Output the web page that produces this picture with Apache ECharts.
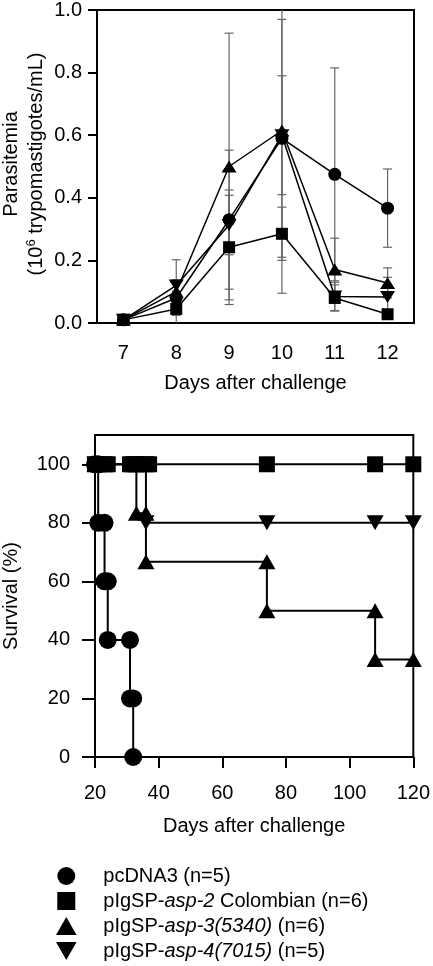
<!DOCTYPE html>
<html><head><meta charset="utf-8">
<script src="https://cdn.jsdelivr.net/npm/echarts@6/dist/echarts.min.js"></script>
<style>html,body{margin:0;padding:0;background:#fff}#c{width:433px;height:966px}</style>
</head><body><div id="c"></div>
<script>
// ---------- DATA ----------
const days = ['7', '8', '9', '10', '11', '12'];
const topTicks = [0, 0.2, 0.4, 0.6, 0.8, 1.0];
const names = ['pcDNA3 (n=5)', 'pIgSP-asp-2 Colombian (n=6)', 'pIgSP-asp-3(5340) (n=6)', 'pIgSP-asp-4(7015) (n=5)'];

// Parasitemia (10^6 trypomastigotes/mL): mean and SD per day
const pcdna3Mean = [0.01, 0.08, 0.33, 0.59, 0.475, 0.367];
const pcdna3SD   = [0.008, 0.055, 0.222, 0.38, 0.34, 0.125];
const asp2Mean   = [0.01, 0.045, 0.242, 0.285, 0.08, 0.028];
const asp2SD     = [0.008, 0.02, 0.183, 0.085, 0.042, 0.012];
const asp3Mean   = [0.01, 0.10, 0.50, 0.615, 0.171, 0.128];
const asp3SD     = [0.008, 0.102, 0.426, 0.52, 0.1, 0.048];
const asp4Mean   = [0.01, 0.12, 0.313, 0.60, 0.085, 0.083];
const asp4SD     = [0.008, 0.018, 0.095, 0.19, 0.045, 0.063];

// Survival (%) step curves: [day, survival]
const survPcdna3 = [[20,100],[21,100],[21,80],[23,80],[23,60],[24,60],[24,40],[31,40],[31,20],[32,20],[32,0]];
const survAsp2   = [[20,100],[21,100],[23,100],[24,100],[31,100],[32,100],[33,100],[36,100],[37,100],[74,100],[108,100],[120,100]];
const survAsp3   = [[20,100],[33,100],[33,83.3],[36,83.3],[36,66.7],[74,66.7],[74,50],[108,50],[108,33.3],[120,33.3]];
const survAsp4   = [[20,100],[36,100],[36,80],[74,80],[108,80],[120,80]];
const survTicks  = [0, 20, 40, 60, 80, 100];

// ---------- STYLE ----------
const FONT = "'Liberation Sans', Arial, Helvetica, sans-serif";
const UP = 'path://M0,14 L8,0 L16,14 Z';
const DOWN = 'path://M0,0 L16,0 L8,14 Z';
const SQ = 'path://M0,0 L10,0 L10,10 L0,10 Z';
const symbols = ['circle', 'rect', UP, DOWN];
const legendIcons = ['circle', SQ, UP, DOWN];
const topSizes = [13, 12, [15, 12], [15, 12]];
const survSizes = [18, 16, [17, 15], [17, 15]];
const zOrder = [3, 4, 5, 2];
const survZ = [3, 6, 4, 5];

function errSeries(mean, sd, z) {
  return {
    type: 'custom', xAxisIndex: 0, yAxisIndex: 0, z: z, silent: true,
    data: mean.map((m, i) => [i, m - sd[i], m + sd[i]]),
    renderItem: function (params, api) {
      const cs = params.coordSys;
      const x = api.coord([api.value(0), 0])[0];
      const yLo = api.coord([api.value(0), api.value(1)])[1];
      const yHi = api.coord([api.value(0), api.value(2)])[1];
      const top = cs.y, bot = cs.y + cs.height;
      const st = { stroke: '#666', lineWidth: 1.2 };
      const hw = 4.5;
      const children = [{ type: 'line', shape: { x1: x, y1: Math.max(yHi, top), x2: x, y2: Math.min(yLo, bot) }, style: st }];
      if (yHi >= top) children.push({ type: 'line', shape: { x1: x - hw, y1: yHi, x2: x + hw, y2: yHi }, style: st });
      if (yLo <= bot) children.push({ type: 'line', shape: { x1: x - hw, y1: yLo, x2: x + hw, y2: yLo }, style: st });
      return { type: 'group', children: children };
    }
  };
}

const means = [pcdna3Mean, asp2Mean, asp3Mean, asp4Mean];
const sds = [pcdna3SD, asp2SD, asp3SD, asp4SD];
const survs = [survPcdna3, survAsp2, survAsp3, survAsp4];

const series = [];
means.forEach((m, k) => series.push(errSeries(m, sds[k], 1)));
means.forEach((m, k) => series.push({
  name: names[k], type: 'line', xAxisIndex: 0, yAxisIndex: 0, z: zOrder[k],
  data: m, symbol: symbols[k], symbolSize: topSizes[k], showAllSymbol: true,
  lineStyle: { color: '#000', width: 1.5 }, itemStyle: { color: '#000' },
  emphasis: { disabled: true }, animation: false
}));
survs.forEach((s, k) => series.push({
  name: names[k], type: 'line', xAxisIndex: 1, yAxisIndex: 1, z: survZ[k],
  data: s, symbol: symbols[k], symbolSize: survSizes[k], showAllSymbol: true,
  lineStyle: { color: '#000', width: 2 }, itemStyle: { color: '#000' },
  emphasis: { disabled: true }, animation: false
}));

const axisText = { fontSize: 20, fontFamily: FONT, color: '#000' };
const axLine = { show: true, lineStyle: { color: '#000', width: 2 } };

const option = {
  animation: false,
  backgroundColor: '#fff',
  grid: [
    { left: 97, top: 6, width: 317, height: 317, show: true, borderColor: '#000', borderWidth: 2 },
    { left: 95, top: 435, width: 322, height: 322, show: true, borderColor: '#000', borderWidth: 2 }
  ],
  xAxis: [
    { type: 'category', gridIndex: 0, data: days, boundaryGap: true,
      axisLine: axLine, axisTick: { alignWithLabel: true, length: 8, lineStyle: { color: '#000', width: 2 } },
      axisLabel: Object.assign({ margin: 20, interval: 0 }, axisText),
      splitLine: { show: false },
      name: 'Days after challenge', nameLocation: 'middle', nameGap: 50, nameTextStyle: axisText },
    { type: 'value', gridIndex: 1, min: 20, max: 120, interval: 20,
      axisLine: axLine, axisTick: { length: 11, lineStyle: { color: '#000', width: 2 } },
      axisLabel: Object.assign({ margin: 26 }, axisText),
      splitLine: { show: false },
      name: 'Days after challenge', nameLocation: 'middle', nameGap: 59, nameTextStyle: axisText }
  ],
  yAxis: [
    { type: 'value', gridIndex: 0, min: 0, max: 1, interval: 0.2,
      axisLine: axLine, axisTick: { show: true, length: 9, lineStyle: { color: '#000', width: 2 } },
      axisLabel: Object.assign({ margin: 15, formatter: v => v.toFixed(1) }, axisText),
      splitLine: { show: false } },
    { type: 'value', gridIndex: 1, min: 0, max: 110, interval: 20,
      axisLine: axLine,
      axisTick: { show: true, length: 13, customValues: survTicks, lineStyle: { color: '#000', width: 2 } },
      axisLabel: Object.assign({ margin: 25, customValues: survTicks, formatter: v => (v > 100 ? '' : String(v)) }, axisText),
      splitLine: { show: false } }
  ],
  legend: {
    orient: 'vertical', left: 56, top: 866, padding: 0, itemWidth: 64, itemHeight: 18, itemGap: 5,
    selectedMode: false, symbolKeepAspect: true,
    data: names.map((n, k) => ({ name: n, icon: legendIcons[k] })),
    formatter: function (name) {
      if (name === names[1]) return 'pIgSP-{i|asp-2} Colombian (n=6)';
      if (name === names[2]) return 'pIgSP-{i|asp-3(5340)} (n=6)';
      if (name === names[3]) return 'pIgSP-{i|asp-4(7015)} (n=5)';
      return name;
    },
    textStyle: { fontSize: 20, fontFamily: FONT, color: '#000', lineHeight: 20,
      rich: { i: { fontStyle: 'italic', fontSize: 20, fontFamily: FONT, color: '#000', lineHeight: 20 } } }
  },
  graphic: [
    { type: 'text', x: 11, y: 164, rotation: Math.PI / 2,
      style: { text: 'Parasitemia', font: '20px ' + FONT, fill: '#000', align: 'center', verticalAlign: 'middle' } },
    { type: 'text', x: 36, y: 164, rotation: Math.PI / 2,
      style: { text: '{t|(10}{s|6}{t| trypomastigotes/mL)}', align: 'center', verticalAlign: 'middle',
        rich: { t: { fontSize: 20, fontFamily: FONT, fill: '#000', color: '#000', lineHeight: 22 },
                s: { fontSize: 13, fontFamily: FONT, fill: '#000', color: '#000', lineHeight: 13, verticalAlign: 'top' } } } },
    { type: 'text', x: 11, y: 596, rotation: Math.PI / 2,
      style: { text: 'Survival (%)', font: '20px ' + FONT, fill: '#000', align: 'center', verticalAlign: 'middle' } }
  ],
  series: series
};

const chart = echarts.init(document.getElementById('c'), null, { renderer: 'canvas', width: 433, height: 966 });
chart.setOption(option);
</script>
</body></html>
